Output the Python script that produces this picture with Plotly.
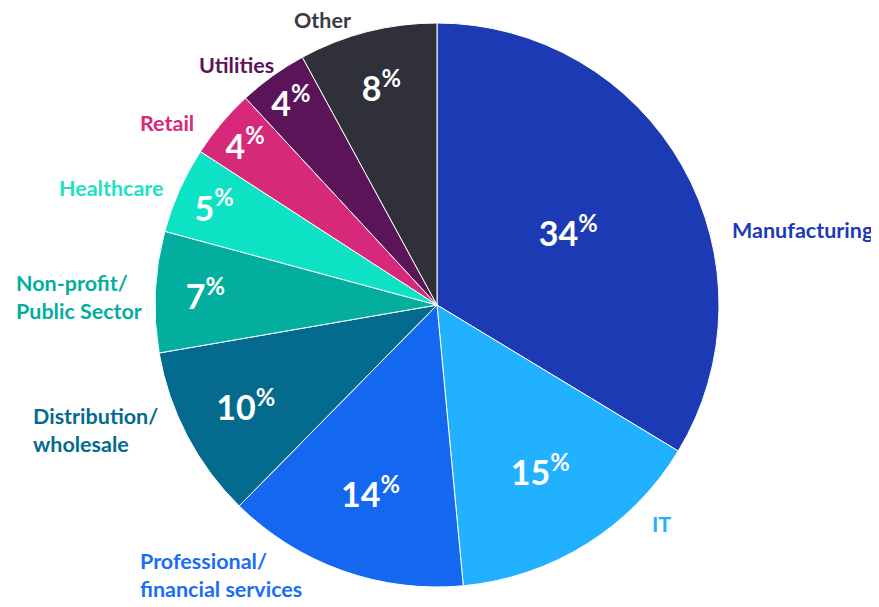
import plotly.graph_objects as go

categories = ["Manufacturing", "IT", "Professional/<br>financial services", "Distribution/<br>wholesale",
              "Non-profit/<br>Public Sector", "Healthcare", "Retail", "Utilities", "Other"]
values = [34, 15, 14, 10, 7, 5, 4, 4, 8]
colors = ["#1c3ab4", "#21b1ff", "#1468f0", "#046b8e", "#03ae9f", "#0de3c4", "#d6297a", "#5c1459", "#30303a"]
label_colors = ["#1c3ab4", "#21b1ff", "#1a6ef2", "#046b8e", "#03ae9f", "#1ee0c4", "#d6297a", "#5c1459", "#3a3a42"]

# page body has an 8px margin; positions below are page pixels
OFF = 8
# label placement (pixel positions, anchor) – layout, not data
label_pos = [
    (730, 230, "left"),
    (650, 524, "left"),
    (138, 575, "left"),
    (31, 430, "left"),
    (14, 297, "left"),
    (57, 188, "left"),
    (138, 123, "left"),
    (197, 65, "left"),
    (292, 20, "left"),
]

W, H = 879, 607
cx, cy, R = 437 - OFF, 305 - OFF, 282
fig = go.Figure(go.Pie(
    values=values,
    labels=[c.replace("<br>", " ") for c in categories],
    text=[f"{v}<sup>%</sup>" for v in values],
    textinfo="text",
    textposition="inside",
    insidetextorientation="horizontal",
    insidetextfont=dict(family="Lato", size=34, color="white", weight="bold"),
    marker=dict(colors=colors, line=dict(color="white", width=1)),
    sort=False,
    direction="clockwise",
    rotation=0,
    hole=0,
    domain=dict(x=[(cx - R) / W, (cx + R) / W], y=[(H - cy - R) / H, (H - cy + R) / H]),
    showlegend=False,
))

annotations = []
for cat, col, (px, py, anc) in zip(categories, label_colors, label_pos):
    annotations.append(dict(
        x=(px - OFF) / W, y=1 - (py - OFF) / H, xref="paper", yref="paper",
        text=cat, showarrow=False, xanchor=anc, yanchor="middle", align="left",
        font=dict(family="Lato", size=21.5, color=col, weight="bold"),
    ))

fig.update_layout(
    width=W, height=H,
    margin=dict(l=0, r=0, t=0, b=0),
    paper_bgcolor="white", plot_bgcolor="white",
    annotations=annotations,
)
fig.write_html("out.html")
